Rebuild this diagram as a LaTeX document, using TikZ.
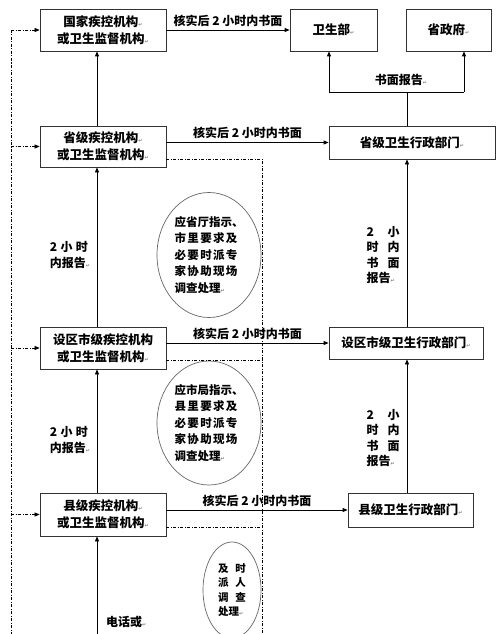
\documentclass[tikz,border=0pt]{standalone}
\usepackage{fontspec}
\setmainfont{Noto Sans CJK SC}
\newfontfamily\markfont{DejaVu Sans}
\usetikzlibrary{shapes.geometric,arrows.meta}
\newcommand{\retmark}{{\markfont\fontsize{5}{5}\selectfont\color{gray}↵}}

\begin{document}
\begin{tikzpicture}
  [x=1pt,y=-1pt,
   every node/.style={font=\fontsize{12.5}{16.5}\selectfont\bfseries},
   box/.style={rectangle,draw=black!80,line width=0.8pt,align=center,inner sep=0pt},
   oval/.style={ellipse,draw=black!60,line width=0.7pt,align=left,inner sep=0pt,font=\fontsize{11.5}{16.5}\selectfont\bfseries},
   lab/.style={inner sep=1pt,align=left,font=\fontsize{12}{15.5}\selectfont\bfseries},
   arr/.style={-{Triangle[length=5pt,width=4pt]},line width=0.8pt},
   dd/.style={line width=0.7pt,dash pattern=on 3pt off 1.5pt on 1pt off 1.5pt}]
  \useasboundingbox (0,0) rectangle (500,634);

  % disease control side
  \node[box,minimum width=126pt,minimum height=42pt] (g1) at (103,30) {国家疾控机构\retmark\\或卫生监督机构\retmark};
  \node[box,minimum width=126pt,minimum height=41pt] (g2) at (103,146.5) {省级疾控机构\retmark\\或卫生监督机构\retmark};
  \node[box,minimum width=126pt,minimum height=42pt] (g3) at (103,348) {设区市级疾控机构\\或卫生监督机构\retmark};
  \node[box,minimum width=126pt,minimum height=43pt] (g4) at (103,514.5) {县级疾控机构\retmark\\或卫生监督机构\retmark};

  % health administration side
  \node[box,minimum width=87pt,minimum height=42pt] (wsb) at (333.5,30) {卫生部\retmark};
  \node[box,minimum width=85pt,minimum height=42pt] (szf) at (448.5,30) {省政府\retmark};
  \node[box,minimum width=166pt,minimum height=33pt] (h1) at (412,142.5) {省级卫生行政部门\retmark};
  \node[box,minimum width=154pt,minimum height=32pt] (h2) at (406,343) {设区市级卫生行政部门\retmark};
  \node[box,minimum width=125pt,minimum height=34pt] (h3) at (410.5,510) {县级卫生行政部门\retmark};

  % ovals
  \node[oval,minimum width=104pt,minimum height=125pt] (e1) at (209,255) {应省厅指示、\\
    \makebox[63pt]{市\hfill 里\hfill 要\hfill 求\hfill 及}\\
    \makebox[63pt]{必\hfill 要\hfill 时\hfill 派\hfill 专}\\
    \makebox[63pt]{家\hfill 协\hfill 助\hfill 现\hfill 场}\\
    调查处理\retmark};
  \node[oval,minimum width=104pt,minimum height=124pt] (e2) at (209,423) {应市局指示、\\
    \makebox[63pt]{县\hfill 里\hfill 要\hfill 求\hfill 及}\\
    \makebox[63pt]{必\hfill 要\hfill 时\hfill 派\hfill 专}\\
    \makebox[63pt]{家\hfill 协\hfill 助\hfill 现\hfill 场}\\
    调查处理\retmark};
  \node[oval,minimum width=58pt,minimum height=96pt,font=\fontsize{10.5}{14.5}\selectfont\bfseries] (e3) at (232,590) {\makebox[28pt]{及\hfill 时}\\
    \makebox[28pt]{派\hfill 人}\\
    \makebox[28pt]{调\hfill 查}\\
    处理\retmark};

  % labels
  \node[lab] (l1) at (70,255) {\makebox[38pt]{2\hfill 小\hfill 时}\\内报告\retmark};
  \node[lab] (l2) at (70,440) {\makebox[38pt]{2\hfill 小\hfill 时}\\内报告\retmark};
  \node[lab] (r1) at (383,255) {\makebox[33pt]{2\hfill 小}\\\makebox[33pt]{时\hfill 内}\\\makebox[33pt]{书\hfill 面}\\报告\retmark};
  \node[lab] (r2) at (383,438) {\makebox[33pt]{2\hfill 小}\\\makebox[33pt]{时\hfill 内}\\\makebox[33pt]{书\hfill 面}\\报告\retmark};
  \node[lab,anchor=west] (tel) at (105,622) {电话或\retmark};
  \node[lab] (rp) at (401,80) {书面报告\retmark};

  \coordinate (bot) at (97,634);
  \coordinate (rx) at (407,92);
  \coordinate (ja) at (329,92);
  \coordinate (jb) at (464,92);
  \coordinate (ltop) at (11,30);
  \coordinate (lbot) at (11,634);
  \coordinate (c2) at (262,159);
  \coordinate (c3) at (262,360);
  \coordinate (c4) at (262,527);
  \coordinate (cbot) at (262,634);

  \draw[arr] (bot) -- (bot |- g4.south);
  \foreach \from/\to in {g4/g3, g3/g2, g2/g1}
    \draw[arr] (bot |- \from.north) -- (bot |- \to.south);
  \foreach \from/\to in {h3/h2, h2/h1}
    \draw[arr] (rx |- \from.north) -- (rx |- \to.south);
  \foreach \from/\to/\t in {g1/wsb/t1, g2/h1/t2, g3/h2/t3, g4/h3/t4}
    \draw[arr] (\from.east |- \to.west) -- node[lab,above=2pt] (\t) {核实后 2 小时内书面} (\to.west);

  \draw[line width=0.8pt] (h1.north -| rx) -- (rx) (ja) -- (jb);
  \draw[arr] (ja) -- (ja |- wsb.south);
  \draw[arr] (jb) -- (jb |- szf.south);

  % dash-dot paths
  \draw[dd] (ltop) -- (lbot);
  \foreach \g in {g1, g2, g3, g4}
    \draw[arr,dd] (ltop |- \g.west) -- (\g.west);
  \draw[dd] (g2.east |- c2) -- (c2) -- (cbot);
  \foreach \n in {3, 4}
    \draw[dd] (g\n.east |- c\n) -- (c\n);

 \end{tikzpicture}
\end{document}
